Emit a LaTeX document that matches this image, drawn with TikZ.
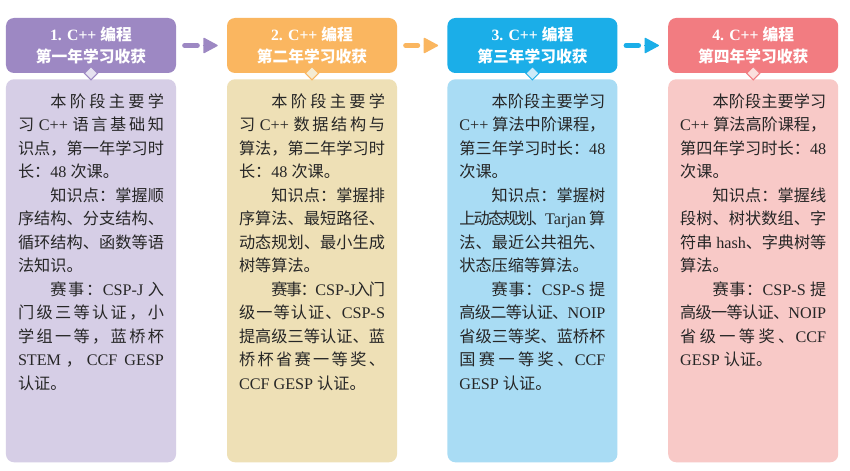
\documentclass[tikz,border=0pt]{standalone}
\usepackage{fontspec}
\setmainfont{Liberation Serif}
\newfontfamily\cjk{Noto Sans CJK SC}
\usetikzlibrary{arrows.meta,shapes.geometric}

% Hanzi and full-width punctuation switch to the CJK font by themselves
\XeTeXinterchartokenstate=1
\newXeTeXintercharclass\hanzi
\newcount\hzcount
\def\hanzirange#1#2{\hzcount=#1 \loop\XeTeXcharclass\hzcount=\hanzi\relax
  \ifnum\hzcount<#2 \advance\hzcount by 1 \repeat}
\hanzirange{"3000}{"303F}
\hanzirange{"4E00}{"9FFF}
\hanzirange{"FF00}{"FFEF}
\XeTeXinterchartoks 0 \hanzi = {\nobreak\hskip 0pt plus .2em minus .15em\cjk}
\XeTeXinterchartoks 4095 \hanzi = {\cjk}
\XeTeXinterchartoks \hanzi 0 = {\rmfamily\nobreak\hskip 0pt plus .2em minus .15em}
\XeTeXinterchartoks \hanzi 4095 = {\rmfamily}
\XeTeXinterchartoks \hanzi \hanzi = {\nobreak\hskip 0pt plus .5em minus .15em}

\definecolor{purpleH}{HTML}{9D88C3}
\definecolor{purpleB}{HTML}{D6CEE6}
\definecolor{orangeH}{HTML}{FAB660}
\definecolor{orangeB}{HTML}{EEE0B6}
\definecolor{blueH}{HTML}{1BAEE8}
\definecolor{blueB}{HTML}{A9DCF4}
\definecolor{redH}{HTML}{F27C81}
\definecolor{redB}{HTML}{F8C9C7}

\newcommand{\duan}{\hspace*{2em}}

\begin{document}
\begin{tikzpicture}[
  head/.style={rounded corners=.2cm,minimum width=4.25cm,minimum height=1.375cm,
    align=center,text=white,font=\fontsize{11.2pt}{16.3pt}\selectfont\bfseries},
  body/.style={anchor=north,rounded corners=.2cm,text width=3.65cm,inner xsep=.3cm,
    inner ysep=0pt,text height=.7cm,text depth=8.875cm,align=justify,text=black!85,
    font=\fontsize{11.5pt}{16.7pt}\selectfont,
    execute at begin node={\tolerance=10000 \hbadness=10000 \hyphenpenalty=10000 \exhyphenpenalty=10000 }},
  gem/.style={diamond,inner sep=0pt,minimum width=.34cm,minimum height=.34cm,line width=.7pt},
  link/.style={line width=.125cm,line cap=round,shorten <=.21cm,shorten >=.735cm},
  linktip/.style={line width=1pt,shorten <=.66cm,shorten >=.225cm,
    -{Triangle[length=.38cm,width=.4cm,round]}}]
\fill[white] (0,0) rectangle (21.25,-11.75);

% headers
\node[head,fill=purpleH] (h1) at (2.275,-1.1375) {1. C++ 编程\\第一年学习收获};
\node[head,fill=orangeH] (h2) at (7.8,-1.1375) {2. C++ 编程\\第二年学习收获};
\node[head,fill=blueH] (h3) at (13.31,-1.1375) {3. C++ 编程\\第三年学习收获};
\node[head,fill=redH] (h4) at (18.83,-1.1375) {4. C++ 编程\\第四年学习收获};

% bodies
\node[body,fill=purpleB] (b1) at (2.275,-1.975) {\duan 本阶段主要学\linebreak
习~C++~语言基础知\linebreak
识点，第一年学习时\linebreak
长：48~次课。\par
\duan 知识点：掌握顺\linebreak
序结构、分支结构、\linebreak
循环结构、函数等语\linebreak
法知识。\par
\duan 赛事：CSP-J~入\linebreak
门级三等认证，小\linebreak
学组一等，蓝桥杯\linebreak
STEM，CCF~GESP\linebreak
认证。};
\node[body,fill=orangeB] (b2) at (7.8,-1.975) {\duan 本阶段主要学\linebreak
习~C++~数据结构与\linebreak
算法，第二年学习时\linebreak
长：48~次课。\par
\duan 知识点：掌握排\linebreak
序算法、最短路径、\linebreak
动态规划、最小生成\linebreak
树等算法。\par
\duan 赛事：CSP-J入门\linebreak
级一等认证、CSP-S\linebreak
提高级三等认证、蓝\linebreak
桥杯省赛一等奖、\linebreak
CCF~GESP~认证。};
\node[body,fill=blueB] (b3) at (13.31,-1.975) {\duan 本阶段主要学习\linebreak
C++~算法中阶课程，\linebreak
第三年学习时长：48\linebreak
次课。\par
\duan 知识点：掌握树\linebreak
上动态规划、Tarjan~算\linebreak
法、最近公共祖先、\linebreak
状态压缩等算法。\par
\duan 赛事：CSP-S~提\linebreak
高级二等认证、NOIP\linebreak
省级三等奖、蓝桥杯\linebreak
国赛一等奖、CCF\linebreak
GESP~认证。};
\node[body,fill=redB] (b4) at (18.83,-1.975) {\duan 本阶段主要学习\linebreak
C++~算法高阶课程，\linebreak
第四年学习时长：48\linebreak
次课。\par
\duan 知识点：掌握线\linebreak
段树、树状数组、字\linebreak
符串~hash、字典树等\linebreak
算法。\par
\duan 赛事：CSP-S~提\linebreak
高级一等认证、NOIP\linebreak
省级一等奖、CCF\linebreak
GESP~认证。};

% diamonds on the joins
\node[gem,fill=purpleB!60!white,draw=purpleH] (d1) at (h1.south) {};
\node[gem,fill=orangeB!60!white,draw=orangeH] (d2) at (h2.south) {};
\node[gem,fill=blueB!60!white,draw=blueH] (d3) at (h3.south) {};
\node[gem,fill=redB!60!white,draw=redH] (d4) at (h4.south) {};

% arrows: a bar, then a separate head
\draw[link,purpleH] (h1.east) -- (h2.west);
\draw[linktip,purpleH] (h1.east) -- (h2.west);
\draw[link,orangeH] (h2.east) -- (h3.west);
\draw[linktip,orangeH] (h2.east) -- (h3.west);
\draw[link,blueH] (h3.east) -- (h4.west);
\draw[linktip,blueH] (h3.east) -- (h4.west);
\end{tikzpicture}
\end{document}
